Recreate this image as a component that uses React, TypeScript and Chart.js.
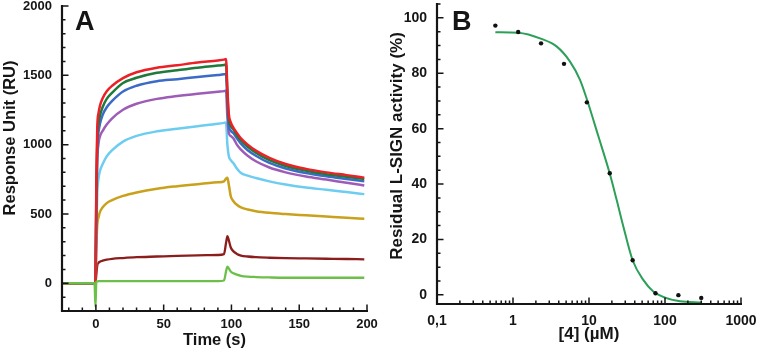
import React, { useEffect, useRef } from 'react';
import { Chart, registerables } from 'chart.js';

Chart.register(...registerables);

// ---------- Panel A: SPR sensorgrams ----------
const TIME_S = [-25, -10, -1, -0.3, 0.3, 1, 2, 3, 5, 8, 12, 20, 30, 45, 60, 75, 90, 94.5, 96, 97, 98, 99.5, 101.5, 104, 107, 112, 118, 128, 140, 155, 170, 185, 198];

const RU_RED = [0, 0, 0, 0, 700, 1120, 1230, 1280, 1335, 1385, 1425, 1480, 1522, 1555, 1573, 1592, 1607, 1613, 1618, 1400, 1225, 1160, 1121, 1085, 1045, 1000, 957, 905, 860, 825, 800, 780, 762];
const RU_DKGREEN = [0, 0, 0, 0, 620, 1040, 1160, 1210, 1272, 1330, 1375, 1445, 1482, 1518, 1537, 1555, 1570, 1575, 1578, 1370, 1185, 1135, 1108, 1070, 1031, 985, 942, 888, 846, 812, 787, 768, 752];
const RU_BLUE = [0, 0, 0, 0, 560, 980, 1095, 1150, 1215, 1270, 1315, 1383, 1425, 1458, 1472, 1488, 1502, 1507, 1510, 1310, 1140, 1100, 1082, 1045, 1007, 960, 920, 868, 828, 795, 772, 752, 735];
const RU_PURPLE = [0, 0, 0, 0, 470, 870, 1012, 1060, 1100, 1145, 1190, 1252, 1295, 1330, 1350, 1367, 1382, 1386, 1390, 1200, 1085, 1062, 1045, 1000, 964, 920, 880, 835, 800, 770, 748, 725, 706];
const RU_LTBLUE = [0, 0, 0, 0, 360, 650, 760, 810, 860, 915, 960, 1022, 1063, 1096, 1115, 1133, 1150, 1157, 1160, 1000, 920, 888, 865, 828, 795, 776, 759, 735, 712, 690, 675, 658, 643];
const RU_GOLD = [0, 0, 0, 0, 250, 420, 478, 515, 548, 578, 600, 630, 655, 682, 700, 715, 728, 735, 755, 762, 715, 628, 592, 566, 548, 532, 520, 508, 499, 490, 481, 472, 466];
const RU_MAROON = [0, 0, 0, 0, 60, 128, 148, 156, 163, 170, 176, 182, 188, 193, 198, 201, 204, 210, 290, 340, 312, 258, 230, 212, 200, 193, 188, 184, 181, 179, 177, 175, 173];
const RU_LTGREEN = [0, 0, 0, -170, 10, 14, 15, 15, 15, 15, 15, 15, 15, 15, 15, 15, 16, 20, 85, 120, 108, 85, 72, 62, 54, 48, 45, 42, 40, 40, 40, 40, 40];

const A_X_TICKS = [0, 50, 100, 150, 200];
const A_Y_TICKS = [0, 500, 1000, 1500, 2000];

// ---------- Panel B: dose-response ----------
const CONC_UM = [0.586, 1.17, 2.34, 4.69, 9.375, 18.75, 37.5, 75, 150, 300];
const ACTIVITY_PCT = [97.2, 94.9, 90.8, 83.4, 69.5, 43.9, 12.5, 0.6, -0.1, -1.1];
const FIT_CONC_UM = [0.586, 1.17, 2.37, 3.74, 5.6, 7.59, 9.375, 13.2, 18.75, 23.1, 28.3, 37.5, 51.8, 70.1, 105, 158, 300];
const FIT_ACTIVITY_PCT = [94.8, 94.6, 92.4, 89.7, 84.3, 77.7, 70.6, 57.5, 43.8, 34.3, 24.7, 12.5, 5.4, 1.2, -1.2, -2.3, -2.8];

const B_X_TICKS = [0.1, 1, 10, 100, 1000];
const B_X_LABELS = ['0,1', '1', '10', '100', '1000'];
const B_Y_TICKS = [0, 20, 40, 60, 80, 100];

// ---------- styling ----------
const FONT = "Arial, 'Liberation Sans', Helvetica, sans-serif";
const INK = '#151515';

type Decor = {
  letter: string; letterX: number; letterY: number; letterSize: number;
  yTitle: string; yTitleX: number; yTitleY: number; yTitleSize: number;
  xMajor: number[]; xMinor: number[]; yMajor: number[]; yMinor: number[];
};

function makeDecor(d: Decor) {
  return {
    id: 'decor',
    afterDraw(chart: any) {
      const ctx = chart.ctx as CanvasRenderingContext2D;
      const xs = chart.scales.x;
      const ys = chart.scales.y;
      const L = Number(xs.left);
      const R = Number(xs.right);
      const T = Number(ys.top);
      const B = Number(ys.bottom);
      ctx.save();
      ctx.globalAlpha = 1;
      ctx.globalCompositeOperation = 'source-over';
      ctx.fillStyle = INK;
      ctx.strokeStyle = INK;
      // axis lines
      ctx.lineWidth = 2.2;
      ctx.beginPath();
      ctx.moveTo(L, T - 1);
      ctx.lineTo(L, B);
      ctx.lineTo(R + 1, B);
      ctx.stroke();
      // inward ticks
      ctx.lineWidth = 1.5;
      ctx.beginPath();
      const xt = (v: number, len: number) => {
        const p = Number(xs.getPixelForValue(v));
        if (!(p >= L - 0.5 && p <= R + 0.5)) return;
        ctx.moveTo(p, B);
        ctx.lineTo(p, B - len);
      };
      const yt = (v: number, len: number) => {
        const p = Number(ys.getPixelForValue(v));
        if (!(p >= T - 0.5 && p <= B + 0.5)) return;
        ctx.moveTo(L, p);
        ctx.lineTo(L + len, p);
      };
      for (const v of d.xMinor) xt(v, 3.5);
      for (const v of d.xMajor) xt(v, 6.5);
      for (const v of d.yMinor) yt(v, 3.5);
      for (const v of d.yMajor) yt(v, 6.5);
      ctx.stroke();
      // panel letter
      ctx.font = `bold ${d.letterSize}px ${FONT}`;
      ctx.textAlign = 'left';
      ctx.textBaseline = 'alphabetic';
      ctx.fillText(d.letter, d.letterX, d.letterY);
      // y title
      ctx.translate(d.yTitleX, d.yTitleY);
      ctx.rotate(-Math.PI / 2);
      ctx.font = `bold ${d.yTitleSize}px ${FONT}`;
      ctx.textAlign = 'center';
      ctx.textBaseline = 'middle';
      ctx.fillText(d.yTitle, 0, 0);
      ctx.restore();
    },
  };
}

function range(from: number, to: number, step: number) {
  const out: number[] = [];
  for (let v = from; v <= to + 1e-9; v += step) out.push(Math.round(v * 1000) / 1000);
  return out;
}

function logMinor() {
  const out: number[] = [];
  for (let e = -1; e <= 2; e++) for (let k = 2; k <= 9; k++) out.push(k * Math.pow(10, e));
  return out;
}

function series(label: string, values: number[], color: string, width = 2.5) {
  return {
    label,
    data: TIME_S.map((t, i) => ({ x: t, y: values[i] })),
    borderColor: color,
    backgroundColor: color,
    borderWidth: width,
    pointRadius: 0,
    showLine: true,
    cubicInterpolationMode: 'monotone',
  };
}

const bold = (size: number) => ({ family: FONT, size, weight: 'bold' });

function configA(): any {
  return {
    type: 'scatter',
    data: {
      datasets: [
        series('c8', RU_LTGREEN, '#6cc04a', 2.3),
        series('c1', RU_RED, '#ec2127'),
        series('c2', RU_DKGREEN, '#1f7a3c'),
        series('c3', RU_BLUE, '#3b6bc6'),
        series('c4', RU_PURPLE, '#9d5cb6'),
        series('c5', RU_LTBLUE, '#6dcdf0'),
        series('c6', RU_GOLD, '#c9a11c'),
        series('c7', RU_MAROON, '#8c1d1d', 2.3),
      ],
    },
    options: {
      responsive: false,
      animation: false,
      events: [],
      layout: { padding: { left: 0, top: 6, right: 13, bottom: 0 } },
      plugins: { legend: { display: false }, tooltip: { enabled: false } },
      scales: {
        x: {
          type: 'linear', min: -25, max: 200,
          grid: { display: false, drawTicks: false },
          border: { display: false },
          afterBuildTicks: (s: any) => { s.ticks = A_X_TICKS.map((v) => ({ value: v })); },
          afterFit: (s: any) => { s.height = 41; s.paddingLeft = 0; s.paddingRight = 0; },
          ticks: { autoSkip: false, maxRotation: 0, padding: 6, color: INK, font: bold(13), callback: (v: number) => String(v) },
          title: { display: true, text: 'Time (s)', color: INK, font: bold(16.5), padding: { top: 0, bottom: 2 } },
        },
        y: {
          type: 'linear', min: -200, max: 2000,
          grid: { display: false, drawTicks: false },
          border: { display: false },
          afterBuildTicks: (s: any) => { s.ticks = A_Y_TICKS.map((v) => ({ value: v })); },
          afterFit: (s: any) => { s.width = 62; s.paddingTop = 0; s.paddingBottom = 0; },
          ticks: { autoSkip: false, padding: 10, color: INK, font: bold(13), callback: (v: number) => String(v) },
        },
      },
    },
    plugins: [makeDecor({
      letter: 'A', letterX: 75, letterY: 30, letterSize: 27,
      yTitle: 'Response Unit (RU)', yTitleX: 10, yTitleY: 138, yTitleSize: 16.5,
      xMajor: A_X_TICKS, xMinor: range(-20, 200, 10),
      yMajor: A_Y_TICKS, yMinor: range(-200, 2000, 100),
    })],
  };
}

function configB(): any {
  return {
    type: 'scatter',
    data: {
      datasets: [
        {
          label: 'measured',
          data: CONC_UM.map((c, i) => ({ x: c, y: ACTIVITY_PCT[i] })),
          backgroundColor: '#111',
          borderColor: '#111',
          borderWidth: 0,
          pointRadius: 2.2,
          showLine: false,
        },
        {
          label: 'fit',
          data: FIT_CONC_UM.map((c, i) => ({ x: c, y: FIT_ACTIVITY_PCT[i] })),
          borderColor: '#2c9f58',
          backgroundColor: '#2c9f58',
          borderWidth: 2,
          pointRadius: 0,
          showLine: true,
          cubicInterpolationMode: 'monotone',
        },
      ],
    },
    options: {
      responsive: false,
      animation: false,
      events: [],
      layout: { padding: { left: 0, top: 4, right: 17, bottom: 0 } },
      plugins: { legend: { display: false }, tooltip: { enabled: false } },
      scales: {
        x: {
          type: 'logarithmic', min: 0.1, max: 1000,
          grid: { display: false, drawTicks: false },
          border: { display: false },
          afterBuildTicks: (s: any) => { s.ticks = B_X_TICKS.map((v) => ({ value: v })); },
          afterFit: (s: any) => { s.height = 48; s.paddingLeft = 0; s.paddingRight = 0; },
          ticks: {
            autoSkip: false, maxRotation: 0, padding: 9, color: INK, font: bold(14),
            callback: (v: number) => { const i = B_X_TICKS.indexOf(v); return i >= 0 ? B_X_LABELS[i] : ''; },
          },
          title: { display: true, text: '[4] (µM)', color: INK, font: bold(17), padding: { top: 0, bottom: 7 } },
        },
        y: {
          type: 'linear', min: -3.3, max: 105,
          grid: { display: false, drawTicks: false },
          border: { display: false },
          afterBuildTicks: (s: any) => { s.ticks = B_Y_TICKS.map((v) => ({ value: v })); },
          afterFit: (s: any) => { s.width = 57; s.paddingTop = 0; s.paddingBottom = 0; },
          ticks: { autoSkip: false, padding: 10, color: INK, font: bold(14), callback: (v: number) => String(v) },
        },
      },
    },
    plugins: [makeDecor({
      letter: 'B', letterX: 72, letterY: 30, letterSize: 27,
      yTitle: 'Residual L-SIGN activity (%)', yTitleX: 17.5, yTitleY: 146, yTitleSize: 17,
      xMajor: B_X_TICKS, xMinor: logMinor(),
      yMajor: B_Y_TICKS, yMinor: range(0, 105, 5),
    })],
  };
}

export default function App() {
  const aRef = useRef<HTMLCanvasElement>(null);
  const bRef = useRef<HTMLCanvasElement>(null);
  useEffect(() => {
    const ca = new Chart(aRef.current as HTMLCanvasElement, configA());
    const cb = new Chart(bRef.current as HTMLCanvasElement, configB());
    return () => { ca.destroy(); cb.destroy(); };
  }, []);
  return (
    <div style={{ position: 'fixed', left: 0, top: 0, width: 758, height: 352, background: '#fff', overflow: 'hidden' }}>
      <canvas ref={aRef} width={380} height={352} style={{ position: 'absolute', left: 0, top: 0, width: 380, height: 352 }} />
      <canvas ref={bRef} width={378} height={352} style={{ position: 'absolute', left: 380, top: 0, width: 378, height: 352 }} />
    </div>
  );
}
